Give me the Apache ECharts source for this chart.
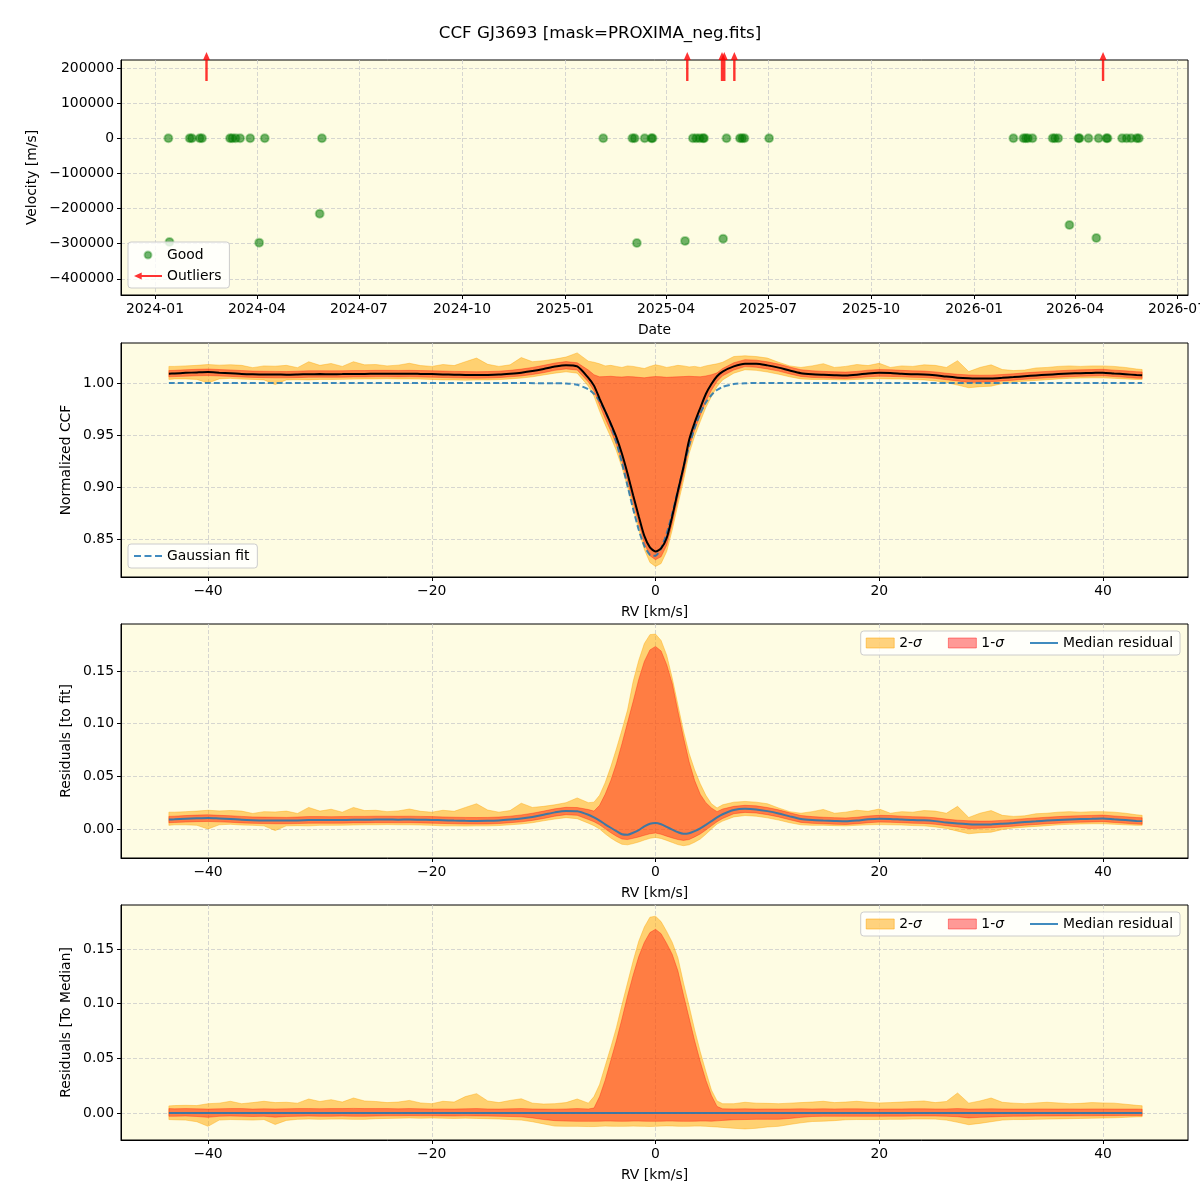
<!DOCTYPE html>
<html>
<head>
<meta charset="utf-8">
<title>CCF GJ3693</title>
<script src="https://cdn.jsdelivr.net/npm/echarts@6/dist/echarts.min.js"></script>
<style>
  html, body { margin: 0; padding: 0; background: #fff; }
  #chart { width: 1200px; height: 1200px; }
</style>
</head>
<body>
<div id="chart"></div>
<script>
// ---- values ----

// top panel: RV time series
const goodDates = [
    '2024-01-13', '2024-01-14', '2024-02-01', '2024-02-03', '2024-02-10', '2024-02-12', '2024-03-08', '2024-03-10',
    '2024-03-13', '2024-03-17', '2024-03-26', '2024-04-03', '2024-04-08', '2024-05-27', '2024-05-29',
    '2025-02-04', '2025-03-02', '2025-03-04', '2025-03-06', '2025-03-13', '2025-03-19', '2025-03-20', '2025-04-18',
    '2025-04-25', '2025-04-28', '2025-05-01', '2025-05-04', '2025-05-05', '2025-05-22', '2025-05-25', '2025-06-06',
    '2025-06-08', '2025-06-10', '2025-07-02',
    '2026-02-05', '2026-02-14', '2026-02-16', '2026-02-18', '2026-02-22', '2026-03-12', '2026-03-14', '2026-03-17',
    '2026-03-27', '2026-04-04', '2026-04-05', '2026-04-13', '2026-04-20', '2026-04-22', '2026-04-29', '2026-04-30',
    '2026-05-13', '2026-05-17', '2026-05-21', '2026-05-26', '2026-05-28'
];
const goodVel = [
    0, -295000, 0, 0, 0, 0, 0, 0,
    0, 0, 0, -297000, 0, -215000, 0,
    0, 0, 0, -298000, 0, 0, 0, -292000,
    0, 0, 0, 0, 0, -286000, 0, 0,
    0, 0, 0,
    0, 0, 0, 0, 0, 0, 0, 0,
    -246600, 0, 0, 0, -283700, 0, 0, 0,
    0, 0, 0, 0, 0
];
const outlierDates = ['2024-02-16', '2025-04-20', '2025-05-21', '2025-05-23', '2025-06-01', '2026-04-26'];

const dateTicks = ['2024-01-01', '2024-04-01', '2024-07-01', '2024-10-01', '2025-01-01', '2025-04-01',
    '2025-07-01', '2025-10-01', '2026-01-01', '2026-04-01', '2026-07-01'];
const velTicks = [-400000, -300000, -200000, -100000, 0, 100000, 200000];
const rvTicks = [-40, -20, 0, 20, 40];
const ccfTicks = [0.85, 0.90, 0.95, 1.00];
const resTicks = [0.00, 0.05, 0.10, 0.15];

// RV grid shared by the CCF / residual profiles (km/s)
const rvGrid = [
    -43.5, -43, -42, -41, -40, -39, -38, -37, -36, -35, -34, -33, -32, -31, -30, -29, -28, -27, -26, -25,
    -24, -23, -22, -21, -20, -19, -18, -17, -16, -15, -14, -13, -12, -11, -10, -9, -8, -7,
    -6, -5.5, -5, -4.5, -4, -3.5, -3, -2.5, -2, -1.5, -1, -0.5, 0, 0.5, 1, 1.5, 2, 2.5, 3, 3.5, 4, 4.5, 5, 5.5, 6,
    7, 8, 9, 10, 11, 12, 13, 14, 15, 16, 17, 18, 19, 20, 21, 22, 23, 24, 25, 26, 27, 28, 29, 30,
    31, 32, 33, 34, 35, 36, 37, 38, 39, 40, 41, 42, 43, 43.5
];

// panel 2: normalized CCF
const gaussRv = [-43.5, -9, -8, -7, -6, -5.5, -5, -4.5, -4, -3.5, -3, -2.5, -2, -1.5, -1, -0.5, 0,
    0.5, 1, 1.5, 2, 2.5, 3, 3.5, 4, 4.5, 5, 5.5, 6, 7, 8, 9, 43.5];
const gaussFit = [1.0000, 0.9999, 0.9996, 0.9983, 0.9940, 0.9896, 0.9829, 0.9731, 0.9600, 0.9431, 0.9232, 0.9011,
    0.8790, 0.8589, 0.8435, 0.8348, 0.8340, 0.8412, 0.8554, 0.8747, 0.8966, 0.9189, 0.9394, 0.9569, 0.9708,
    0.9812, 0.9885, 0.9933, 0.9963, 0.9990, 0.9998, 1.0000, 1.0000];

const ccfMedian = [
    1.0090, 1.0092, 1.0098, 1.0102, 1.0105, 1.0100, 1.0095, 1.0088, 1.0084, 1.0082, 1.0082, 1.0080, 1.0082, 1.0085,
    1.0086, 1.0085, 1.0086, 1.0088, 1.0088, 1.0090, 1.0090, 1.0089, 1.0090, 1.0088, 1.0086, 1.0083, 1.0080, 1.0078,
    1.0077, 1.0078, 1.0082, 1.0090, 1.0100, 1.0115, 1.0135, 1.0158, 1.0172, 1.0160,
    1.0050, 0.9975, 0.9850, 0.9730, 0.9610, 0.9480, 0.9320, 0.9130, 0.8920, 0.8720, 0.8530, 0.8420, 0.8381,
    0.8410, 0.8510, 0.8720, 0.8960, 0.9190, 0.9450, 0.9620, 0.9760, 0.9895, 0.9990, 1.0065, 1.0110,
    1.0160, 1.0186, 1.0186, 1.0170, 1.0148, 1.0120, 1.0095, 1.0085, 1.0080, 1.0076, 1.0073, 1.0080, 1.0092, 1.0098,
    1.0096, 1.0090, 1.0085, 1.0083, 1.0075, 1.0062, 1.0052, 1.0046, 1.0043, 1.0044, 1.0050, 1.0057, 1.0066, 1.0073,
    1.0080, 1.0086, 1.0091, 1.0095, 1.0097, 1.0100, 1.0092, 1.0085, 1.0077, 1.0075
];
const ccf1Lo = [
    1.0060, 1.0062, 1.0066, 1.0070, 1.0072, 1.0068, 1.0064, 1.0058, 1.0054, 1.0052, 1.0050, 1.0050, 1.0052, 1.0055,
    1.0056, 1.0055, 1.0056, 1.0058, 1.0058, 1.0060, 1.0060, 1.0059, 1.0060, 1.0058, 1.0056, 1.0053, 1.0050, 1.0048,
    1.0047, 1.0048, 1.0052, 1.0060, 1.0068, 1.0082, 1.0100, 1.0122, 1.0136, 1.0125,
    1.0010, 0.9925, 0.9790, 0.9660, 0.9540, 0.9410, 0.9250, 0.9060, 0.8850, 0.8650, 0.8460, 0.8340, 0.8301,
    0.8330, 0.8440, 0.8650, 0.8890, 0.9120, 0.9380, 0.9550, 0.9690, 0.9825, 0.9930, 1.0015, 1.0070,
    1.0125, 1.0158, 1.0152, 1.0136, 1.0115, 1.0088, 1.0063, 1.0054, 1.0050, 1.0046, 1.0043, 1.0050, 1.0060, 1.0066,
    1.0064, 1.0060, 1.0055, 1.0053, 1.0045, 1.0032, 1.0020, 1.0005, 1.0008, 1.0012, 1.0020, 1.0027, 1.0036, 1.0043,
    1.0050, 1.0056, 1.0061, 1.0065, 1.0067, 1.0070, 1.0062, 1.0055, 1.0047, 1.0045
];
const ccf1Hi = [
    1.0120, 1.0122, 1.0128, 1.0132, 1.0135, 1.0130, 1.0126, 1.0120, 1.0115, 1.0113, 1.0112, 1.0110, 1.0114, 1.0118,
    1.0118, 1.0117, 1.0118, 1.0120, 1.0120, 1.0122, 1.0122, 1.0121, 1.0122, 1.0120, 1.0118, 1.0115, 1.0112, 1.0110,
    1.0109, 1.0110, 1.0114, 1.0122, 1.0134, 1.0150, 1.0170, 1.0192, 1.0206, 1.0195,
    1.0125, 1.0080, 1.0060, 1.0062, 1.0065, 1.0060, 1.0058, 1.0062, 1.0060, 1.0055, 1.0050, 1.0058, 1.0062,
    1.0060, 1.0055, 1.0058, 1.0060, 1.0062, 1.0065, 1.0062, 1.0060, 1.0068, 1.0080, 1.0098, 1.0140,
    1.0195, 1.0225, 1.0220, 1.0204, 1.0182, 1.0154, 1.0128, 1.0118, 1.0112, 1.0108, 1.0105, 1.0112, 1.0124, 1.0130,
    1.0128, 1.0122, 1.0117, 1.0115, 1.0107, 1.0094, 1.0084, 1.0078, 1.0075, 1.0076, 1.0082, 1.0089, 1.0098, 1.0105,
    1.0112, 1.0118, 1.0123, 1.0127, 1.0129, 1.0132, 1.0124, 1.0117, 1.0109, 1.0107
];
const ccf2Lo = [
    1.0035, 1.0040, 1.0040, 1.0035, 1.0000, 1.0040, 1.0045, 1.0038, 1.0035, 1.0030, 0.9985, 1.0030, 1.0032, 1.0030,
    1.0035, 1.0035, 1.0036, 1.0038, 1.0040, 1.0040, 1.0042, 1.0040, 1.0040, 1.0038, 1.0035, 1.0030, 1.0030, 1.0028,
    1.0030, 1.0030, 1.0033, 1.0040, 1.0048, 1.0060, 1.0078, 1.0095, 1.0108, 1.0095,
    0.9970, 0.9875, 0.9730, 0.9600, 0.9480, 0.9350, 0.9190, 0.9000, 0.8790, 0.8590, 0.8400, 0.8275, 0.8236,
    0.8265, 0.8380, 0.8590, 0.8830, 0.9060, 0.9320, 0.9490, 0.9630, 0.9765, 0.9870, 0.9965, 1.0030,
    1.0095, 1.0128, 1.0122, 1.0106, 1.0085, 1.0060, 1.0040, 1.0035, 1.0035, 1.0032, 1.0030, 1.0035, 1.0040, 1.0042,
    1.0040, 1.0038, 1.0033, 1.0030, 1.0020, 1.0005, 0.9980, 0.9955, 0.9965, 0.9970, 0.9995, 1.0010, 1.0018, 1.0025,
    1.0032, 1.0040, 1.0045, 1.0048, 1.0050, 1.0050, 1.0045, 1.0040, 1.0035, 1.0035
];
const ccf2Hi = [
    1.0160, 1.0160, 1.0165, 1.0170, 1.0178, 1.0172, 1.0176, 1.0170, 1.0148, 1.0165, 1.0162, 1.0170, 1.0148, 1.0205,
    1.0170, 1.0188, 1.0160, 1.0205, 1.0175, 1.0178, 1.0165, 1.0172, 1.0190, 1.0168, 1.0160, 1.0178, 1.0168, 1.0205,
    1.0240, 1.0180, 1.0160, 1.0175, 1.0245, 1.0205, 1.0215, 1.0230, 1.0250, 1.0290,
    1.0210, 1.0200, 1.0185, 1.0165, 1.0170, 1.0160, 1.0150, 1.0165, 1.0160, 1.0150, 1.0140, 1.0160, 1.0175,
    1.0165, 1.0150, 1.0160, 1.0170, 1.0165, 1.0155, 1.0160, 1.0150, 1.0165, 1.0175, 1.0185, 1.0200,
    1.0255, 1.0262, 1.0255, 1.0240, 1.0200, 1.0165, 1.0150, 1.0165, 1.0186, 1.0150, 1.0160, 1.0178, 1.0168, 1.0190,
    1.0150, 1.0165, 1.0160, 1.0175, 1.0170, 1.0150, 1.0215, 1.0110, 1.0150, 1.0175, 1.0130, 1.0120, 1.0125, 1.0145,
    1.0150, 1.0160, 1.0165, 1.0160, 1.0165, 1.0165, 1.0160, 1.0150, 1.0135, 1.0130
];

// panel 3: residuals to the Gaussian fit
const resFitMedian = [
    0.0090, 0.0092, 0.0098, 0.0102, 0.0105, 0.0100, 0.0095, 0.0088, 0.0084, 0.0082, 0.0082, 0.0080, 0.0082, 0.0085,
    0.0086, 0.0085, 0.0086, 0.0088, 0.0088, 0.0090, 0.0090, 0.0089, 0.0090, 0.0088, 0.0086, 0.0083, 0.0080, 0.0078,
    0.0077, 0.0078, 0.0082, 0.0090, 0.0100, 0.0115, 0.0135, 0.0158, 0.0172, 0.0168,
    0.0135, 0.0110, 0.0080, 0.0045, 0.0012, -0.0020, -0.0050, -0.0055, -0.0035, -0.0010, 0.0025, 0.0050, 0.0057,
    0.0045, 0.0020, -0.0005, -0.0030, -0.0045, -0.0040, -0.0020, 0.0006, 0.0040, 0.0075, 0.0110, 0.0140,
    0.0180, 0.0192, 0.0186, 0.0170, 0.0148, 0.0120, 0.0095, 0.0085, 0.0080, 0.0076, 0.0073, 0.0080, 0.0092, 0.0098,
    0.0096, 0.0090, 0.0085, 0.0083, 0.0075, 0.0062, 0.0052, 0.0046, 0.0043, 0.0044, 0.0050, 0.0057, 0.0066, 0.0073,
    0.0080, 0.0086, 0.0091, 0.0095, 0.0097, 0.0100, 0.0092, 0.0085, 0.0077, 0.0075
];
const resFit1Lo = [
    0.0060, 0.0062, 0.0066, 0.0070, 0.0072, 0.0068, 0.0064, 0.0058, 0.0054, 0.0052, 0.0050, 0.0050, 0.0052, 0.0055,
    0.0056, 0.0055, 0.0056, 0.0058, 0.0058, 0.0060, 0.0060, 0.0059, 0.0060, 0.0058, 0.0056, 0.0053, 0.0050, 0.0048,
    0.0047, 0.0048, 0.0052, 0.0060, 0.0068, 0.0082, 0.0100, 0.0122, 0.0136, 0.0130,
    0.0090, 0.0069, 0.0040, 0.0002, -0.0035, -0.0068, -0.0095, -0.0100, -0.0088, -0.0075, -0.0060, -0.0045, -0.0038,
    -0.0050, -0.0068, -0.0085, -0.0100, -0.0108, -0.0100, -0.0075, -0.0047, -0.0010, 0.0030, 0.0069, 0.0100,
    0.0145, 0.0158, 0.0152, 0.0136, 0.0115, 0.0088, 0.0063, 0.0054, 0.0050, 0.0046, 0.0043, 0.0050, 0.0060, 0.0066,
    0.0064, 0.0060, 0.0055, 0.0053, 0.0045, 0.0032, 0.0020, 0.0005, 0.0008, 0.0012, 0.0020, 0.0027, 0.0036, 0.0043,
    0.0050, 0.0056, 0.0061, 0.0065, 0.0067, 0.0070, 0.0062, 0.0055, 0.0047, 0.0045
];
const resFit1Hi = [
    0.0120, 0.0122, 0.0128, 0.0132, 0.0135, 0.0130, 0.0126, 0.0120, 0.0115, 0.0113, 0.0112, 0.0110, 0.0114, 0.0118,
    0.0118, 0.0117, 0.0118, 0.0120, 0.0120, 0.0122, 0.0122, 0.0121, 0.0122, 0.0120, 0.0118, 0.0115, 0.0112, 0.0110,
    0.0109, 0.0110, 0.0114, 0.0122, 0.0134, 0.0150, 0.0170, 0.0192, 0.0206, 0.0204,
    0.0185, 0.0170, 0.0225, 0.0330, 0.0460, 0.0620, 0.0810, 0.1010, 0.1210, 0.1420, 0.1590, 0.1700, 0.1733,
    0.1690, 0.1560, 0.1380, 0.1120, 0.0870, 0.0640, 0.0460, 0.0330, 0.0250, 0.0200, 0.0165, 0.0190,
    0.0215, 0.0225, 0.0220, 0.0204, 0.0182, 0.0154, 0.0128, 0.0118, 0.0112, 0.0108, 0.0105, 0.0112, 0.0124, 0.0130,
    0.0128, 0.0122, 0.0117, 0.0115, 0.0107, 0.0094, 0.0084, 0.0078, 0.0075, 0.0076, 0.0082, 0.0089, 0.0098, 0.0105,
    0.0112, 0.0118, 0.0123, 0.0127, 0.0129, 0.0132, 0.0124, 0.0117, 0.0109, 0.0107
];
const resFit2Lo = [
    0.0035, 0.0040, 0.0040, 0.0035, 0.0000, 0.0040, 0.0045, 0.0038, 0.0035, 0.0030, -0.0015, 0.0030, 0.0032, 0.0030,
    0.0035, 0.0035, 0.0036, 0.0038, 0.0040, 0.0040, 0.0042, 0.0040, 0.0040, 0.0038, 0.0035, 0.0030, 0.0030, 0.0028,
    0.0030, 0.0030, 0.0033, 0.0040, 0.0048, 0.0060, 0.0078, 0.0095, 0.0108, 0.0098,
    0.0055, 0.0032, 0.0000, -0.0045, -0.0085, -0.0118, -0.0145, -0.0150, -0.0138, -0.0123, -0.0105, -0.0088, -0.0080,
    -0.0090, -0.0108, -0.0128, -0.0148, -0.0158, -0.0150, -0.0125, -0.0095, -0.0050, 0.0000, 0.0047, 0.0075,
    0.0115, 0.0128, 0.0122, 0.0106, 0.0085, 0.0060, 0.0040, 0.0035, 0.0035, 0.0032, 0.0030, 0.0035, 0.0040, 0.0042,
    0.0040, 0.0038, 0.0033, 0.0030, 0.0020, 0.0005, -0.0020, -0.0045, -0.0035, -0.0030, -0.0005, 0.0010, 0.0018, 0.0025,
    0.0032, 0.0040, 0.0045, 0.0048, 0.0050, 0.0050, 0.0045, 0.0040, 0.0035, 0.0035
];
const resFit2Hi = [
    0.0160, 0.0160, 0.0165, 0.0170, 0.0178, 0.0172, 0.0176, 0.0170, 0.0148, 0.0165, 0.0162, 0.0170, 0.0148, 0.0205,
    0.0170, 0.0188, 0.0160, 0.0205, 0.0175, 0.0178, 0.0165, 0.0172, 0.0190, 0.0168, 0.0160, 0.0178, 0.0168, 0.0205,
    0.0240, 0.0180, 0.0160, 0.0175, 0.0245, 0.0205, 0.0215, 0.0230, 0.0250, 0.0295,
    0.0250, 0.0255, 0.0320, 0.0440, 0.0590, 0.0760, 0.0940, 0.1130, 0.1400, 0.1600, 0.1760, 0.1845, 0.1850,
    0.1790, 0.1650, 0.1430, 0.1180, 0.0930, 0.0720, 0.0560, 0.0430, 0.0320, 0.0240, 0.0200, 0.0230,
    0.0255, 0.0262, 0.0255, 0.0240, 0.0200, 0.0165, 0.0150, 0.0165, 0.0186, 0.0150, 0.0160, 0.0178, 0.0168, 0.0190,
    0.0150, 0.0165, 0.0160, 0.0175, 0.0170, 0.0150, 0.0215, 0.0110, 0.0150, 0.0175, 0.0130, 0.0120, 0.0125, 0.0145,
    0.0150, 0.0160, 0.0165, 0.0160, 0.0165, 0.0165, 0.0160, 0.0150, 0.0135, 0.0130
];

// panel 4: residuals to the median profile
const resMedRv = [-43.5, 43.5];
const resMedLine = [0, 0];
const resMed1Lo = [
    -0.0030, -0.0030, -0.0028, -0.0032, -0.0040, -0.0030, -0.0028, -0.0030, -0.0032, -0.0030, -0.0038, -0.0032, -0.0030, -0.0028,
    -0.0030, -0.0030, -0.0028, -0.0030, -0.0030, -0.0028, -0.0026, -0.0026, -0.0025, -0.0026, -0.0026, -0.0027, -0.0028, -0.0026,
    -0.0027, -0.0028, -0.0030, -0.0032, -0.0035, -0.0045, -0.0060, -0.0070, -0.0074, -0.0076,
    -0.0076, -0.0076, -0.0075, -0.0074, -0.0074, -0.0075, -0.0076, -0.0075, -0.0074, -0.0074, -0.0075, -0.0076, -0.0076,
    -0.0075, -0.0074, -0.0074, -0.0075, -0.0076, -0.0076, -0.0075, -0.0074, -0.0074, -0.0075, -0.0072, -0.0068,
    -0.0062, -0.0060, -0.0058, -0.0058, -0.0058, -0.0050, -0.0040, -0.0032, -0.0030, -0.0030, -0.0030, -0.0030, -0.0030, -0.0030,
    -0.0029, -0.0029, -0.0028, -0.0028, -0.0028, -0.0030, -0.0034, -0.0045, -0.0040, -0.0036, -0.0032, -0.0030, -0.0029, -0.0028,
    -0.0028, -0.0027, -0.0027, -0.0026, -0.0026, -0.0025, -0.0025, -0.0024, -0.0024, -0.0024
];
const resMed1Hi = [
    0.0040, 0.0038, 0.0040, 0.0038, 0.0036, 0.0038, 0.0040, 0.0040, 0.0036, 0.0038, 0.0037, 0.0038, 0.0040, 0.0040,
    0.0039, 0.0040, 0.0040, 0.0042, 0.0040, 0.0040, 0.0040, 0.0038, 0.0040, 0.0038, 0.0036, 0.0037, 0.0036, 0.0038,
    0.0040, 0.0037, 0.0036, 0.0038, 0.0040, 0.0037, 0.0036, 0.0035, 0.0037, 0.0040,
    0.0037, 0.0045, 0.0150, 0.0300, 0.0480, 0.0660, 0.0860, 0.1070, 0.1260, 0.1430, 0.1560, 0.1650, 0.1680,
    0.1640, 0.1550, 0.1450, 0.1300, 0.1080, 0.0870, 0.0660, 0.0470, 0.0300, 0.0160, 0.0060, 0.0038,
    0.0037, 0.0038, 0.0036, 0.0037, 0.0036, 0.0037, 0.0038, 0.0037, 0.0038, 0.0037, 0.0038, 0.0038, 0.0037, 0.0036,
    0.0037, 0.0037, 0.0038, 0.0038, 0.0037, 0.0037, 0.0040, 0.0036, 0.0037, 0.0038, 0.0037, 0.0036, 0.0036, 0.0037,
    0.0037, 0.0036, 0.0037, 0.0036, 0.0037, 0.0037, 0.0036, 0.0036, 0.0036, 0.0035
];
const resMed2Lo = [
    -0.0060, -0.0062, -0.0065, -0.0080, -0.0122, -0.0065, -0.0060, -0.0062, -0.0065, -0.0060, -0.0105, -0.0068, -0.0058, -0.0055,
    -0.0058, -0.0056, -0.0055, -0.0058, -0.0058, -0.0052, -0.0050, -0.0048, -0.0046, -0.0048, -0.0046, -0.0048, -0.0050, -0.0047,
    -0.0050, -0.0052, -0.0055, -0.0060, -0.0065, -0.0080, -0.0100, -0.0120, -0.0122, -0.0122,
    -0.0124, -0.0124, -0.0122, -0.0120, -0.0121, -0.0122, -0.0122, -0.0121, -0.0120, -0.0121, -0.0122, -0.0123, -0.0122,
    -0.0120, -0.0118, -0.0119, -0.0121, -0.0122, -0.0121, -0.0120, -0.0120, -0.0122, -0.0125, -0.0128, -0.0132,
    -0.0140, -0.0146, -0.0140, -0.0128, -0.0122, -0.0105, -0.0090, -0.0078, -0.0075, -0.0070, -0.0062, -0.0060, -0.0060, -0.0060,
    -0.0058, -0.0058, -0.0055, -0.0055, -0.0056, -0.0065, -0.0085, -0.0107, -0.0095, -0.0080, -0.0065, -0.0060, -0.0060, -0.0058,
    -0.0056, -0.0054, -0.0052, -0.0050, -0.0048, -0.0046, -0.0044, -0.0040, -0.0035, -0.0034
];
const resMed2Hi = [
    0.0065, 0.0068, 0.0070, 0.0068, 0.0085, 0.0090, 0.0107, 0.0085, 0.0095, 0.0107, 0.0095, 0.0098, 0.0090, 0.0128,
    0.0105, 0.0122, 0.0100, 0.0137, 0.0110, 0.0105, 0.0095, 0.0100, 0.0115, 0.0092, 0.0085, 0.0107, 0.0100, 0.0150,
    0.0177, 0.0110, 0.0095, 0.0115, 0.0130, 0.0090, 0.0082, 0.0085, 0.0095, 0.0128,
    0.0090, 0.0150, 0.0260, 0.0430, 0.0600, 0.0780, 0.0990, 0.1190, 0.1390, 0.1570, 0.1700, 0.1790, 0.1800,
    0.1750, 0.1660, 0.1560, 0.1420, 0.1190, 0.0980, 0.0760, 0.0560, 0.0380, 0.0210, 0.0110, 0.0085,
    0.0085, 0.0098, 0.0090, 0.0088, 0.0085, 0.0090, 0.0095, 0.0100, 0.0107, 0.0095, 0.0100, 0.0107, 0.0098, 0.0092,
    0.0095, 0.0100, 0.0105, 0.0110, 0.0095, 0.0105, 0.0183, 0.0090, 0.0110, 0.0137, 0.0098, 0.0090, 0.0085, 0.0092,
    0.0098, 0.0092, 0.0085, 0.0088, 0.0095, 0.0092, 0.0090, 0.0080, 0.0070, 0.0066
];

// sanity check: every profile must match the RV grid
const profiles = { ccfMedian, ccf1Lo, ccf1Hi, ccf2Lo, ccf2Hi, resFitMedian, resFit1Lo, resFit1Hi, resFit2Lo,
    resFit2Hi, resMed1Lo, resMed1Hi, resMed2Lo, resMed2Hi };
Object.keys(profiles).forEach(k => {
    if (profiles[k].length !== rvGrid.length) throw new Error(k + ' has ' + profiles[k].length + ' values');
});
if (goodDates.length !== goodVel.length) throw new Error('goodDates/goodVel mismatch');

// ---- styling ----
const FONT = 'DejaVu Sans';
const BG = '#FEFCE3';
const ORANGE = 'rgba(255,165,0,0.5)';
const RED = 'rgba(255,0,0,0.4)';
const BLUE = 'rgba(31,119,180,0.85)';
const ARROW_Y = 204000;   // where the outlier arrows sit (off-scale points)

// legend glyphs: plain line, dashed line, left arrow
const ICON_LINE = 'path://M0,0 L28,0 L28,2 L0,2 Z';
const ICON_DASH = 'path://M0,0 L7,0 L7,2 L0,2 Z M10.5,0 L17.5,0 L17.5,2 L10.5,2 Z M21,0 L28,0 L28,2 L21,2 Z';
const ICON_ARROW = 'path://M0,5 L11,0 L11,3.6 L40,3.6 L40,6.4 L11,6.4 L11,10 Z';

function minusFmt(v) {
    return (v < 0 ? '\u2212' : '') + Math.abs(v);
}
function dateFmt(v) {
    const d = new Date(v);
    return d.getUTCFullYear() + '-' + String(d.getUTCMonth() + 1).padStart(2, '0');
}

function makeGrid(top, height) {
    return {
        left: 121, right: 12, top: top, height: height,
        show: true, backgroundColor: BG, borderColor: '#000', borderWidth: 1,
        outerBoundsMode: 'none', containLabel: false
    };
}

function makeAxis(gridIndex, min, max, ticks, formatter, name, nameGap, isY) {
    return {
        type: 'value', gridIndex: gridIndex, min: min, max: max,
        name: name, nameLocation: 'middle', nameGap: nameGap, nameRotate: isY ? 90 : 0,
        nameMoveOverlap: false,
        nameTextStyle: { color: '#000', fontSize: 13.9, fontFamily: FONT },
        axisLine: { show: true, onZero: false, lineStyle: { color: '#000', width: 1 } },
        axisTick: { show: true, inside: false, length: 4, customValues: ticks, lineStyle: { color: '#000', width: 1 } },
        axisLabel: { show: true, customValues: ticks, formatter: formatter, color: '#000',
            fontSize: 13.9, fontFamily: FONT, margin: 7, hideOverlap: false },
        splitLine: { show: true, lineStyle: { color: '#cccccc', width: 0.8, type: [4, 2] } }
    };
}

// filled band between lo and hi, drawn once as a single polygon through the axis scales
function bandSeries(name, axisIndex, xs, lo, hi, fill) {
    return {
        type: 'custom', name: name, xAxisIndex: axisIndex, yAxisIndex: axisIndex,
        data: xs.map((x, i) => [x, lo[i], hi[i]]),
        encode: { x: 0, y: [1, 2] },
        itemStyle: { color: fill },
        silent: true, z: 1,
        renderItem: function (params, api) {
            if (params.dataIndex !== 0) return;
            const pts = [];
            for (let i = 0; i < xs.length; i++) pts.push(api.coord([xs[i], hi[i]]));
            for (let i = xs.length - 1; i >= 0; i--) pts.push(api.coord([xs[i], lo[i]]));
            return {
                type: 'polygon', shape: { points: pts },
                style: { fill: fill, stroke: fill, lineWidth: 0.8 }
            };
        }
    };
}

function lineSeries(name, axisIndex, xs, ys, color, width, dash, z) {
    return {
        type: 'line', name: name, xAxisIndex: axisIndex, yAxisIndex: axisIndex,
        data: xs.map((x, i) => [x, ys[i]]),
        symbol: 'none', showSymbol: false, silent: true, z: z,
        smooth: 0.25,
        itemStyle: { color: color },
        lineStyle: { color: color, width: width, type: dash || 'solid' }
    };
}

const T_MIN = Date.parse('2023-12-01T17:00:00Z');
const T_MAX = Date.parse('2026-07-10T19:00:00Z');
const RV_MIN = -47.78, RV_MAX = 47.6;

const legendText = { color: '#000', fontSize: 13.9, fontFamily: FONT,
    rich: { i: { fontStyle: 'italic', fontSize: 13.9, fontFamily: FONT, color: '#000' } } };
const legendBox = { backgroundColor: 'rgba(255,255,255,0.8)', borderColor: '#cccccc', borderWidth: 1,
    borderRadius: 3, itemWidth: 28, itemHeight: 10 };
const sigmaLegend = [
    { name: '2-\u03c3', icon: 'rect', itemStyle: { color: ORANGE, borderColor: ORANGE, borderWidth: 1 } },
    { name: '1-\u03c3', icon: 'rect', itemStyle: { color: RED, borderColor: RED, borderWidth: 1 } },
    { name: 'Median residual', icon: ICON_LINE, itemStyle: { color: BLUE } }
];
function sigmaFmt(name) {
    return name.replace('\u03c3', '{i|\u03c3}');
}

const option = {
    animation: false,
    backgroundColor: '#ffffff',
    title: {
        text: 'CCF GJ3693 [mask=PROXIMA_neg.fits]', left: 'center', top: 20,
        textStyle: { color: '#000', fontSize: 16.7, fontWeight: 'normal', fontFamily: FONT }
    },
    grid: [makeGrid(60, 235), makeGrid(343, 234), makeGrid(624, 234), makeGrid(905, 235)],
    xAxis: [
        makeAxis(0, T_MIN, T_MAX, dateTicks.map(d => Date.parse(d)), dateFmt, 'Date', 28, false),
        makeAxis(1, RV_MIN, RV_MAX, rvTicks, minusFmt, 'RV [km/s]', 28, false),
        makeAxis(2, RV_MIN, RV_MAX, rvTicks, minusFmt, 'RV [km/s]', 28, false),
        makeAxis(3, RV_MIN, RV_MAX, rvTicks, minusFmt, 'RV [km/s]', 28, false)
    ],
    yAxis: [
        makeAxis(0, -446000, 222700, velTicks, minusFmt, 'Velocity [m/s]', 82, true),
        makeAxis(1, 0.8135, 1.0385, ccfTicks, v => v.toFixed(2), 'Normalized CCF', 48, true),
        makeAxis(2, -0.0275, 0.1946, resTicks, v => v.toFixed(2), 'Residuals [to fit]', 48, true),
        makeAxis(3, -0.0247, 0.1902, resTicks, v => v.toFixed(2), 'Residuals [To Median]', 48, true)
    ],
    legend: [
        Object.assign({}, legendBox, {
            left: 128, top: 242, orient: 'vertical', itemGap: 7, itemHeight: 7,
            padding: [6, 8, 5, 6], textStyle: legendText,
            data: [
                { name: 'Good', icon: 'circle' },
                { name: 'Outliers', icon: ICON_ARROW, itemStyle: { color: '#ff0000' } }
            ]
        }),
        Object.assign({}, legendBox, {
            left: 128, top: 544, padding: [5, 8, 5, 6], textStyle: legendText,
            data: [{ name: 'Gaussian fit', icon: ICON_DASH, itemStyle: { color: BLUE } }]
        }),
        Object.assign({}, legendBox, {
            right: 20, top: 631, itemGap: 26, padding: [5, 7, 5, 5], textStyle: legendText,
            formatter: sigmaFmt, data: sigmaLegend
        }),
        Object.assign({}, legendBox, {
            right: 20, top: 912, itemGap: 26, padding: [5, 7, 5, 5], textStyle: legendText,
            formatter: sigmaFmt, data: sigmaLegend
        })
    ],
    series: [
        // top panel
        {
            type: 'scatter', name: 'Good', xAxisIndex: 0, yAxisIndex: 0,
            data: goodDates.map((d, i) => [Date.parse(d), goodVel[i]]),
            symbol: 'circle', symbolSize: 8, z: 3,
            itemStyle: { color: 'rgba(0,120,0,0.7)', borderColor: 'rgba(0,128,0,0.4)', borderWidth: 2 }
        },
        {
            type: 'scatter', name: 'Outliers', xAxisIndex: 0, yAxisIndex: 0, clip: false,
            data: outlierDates.map(d => [Date.parse(d), ARROW_Y]),
            symbol: 'path://M3.5,0 L7,8 L4.7,8 L4.7,29 L2.3,29 L2.3,8 L0,8 Z',
            symbolSize: [7, 29], z: 4,
            itemStyle: { color: '#ff0000' }
        },
        // normalized CCF
        bandSeries('ccf 2-\u03c3', 1, rvGrid, ccf2Lo, ccf2Hi, ORANGE),
        bandSeries('ccf 1-\u03c3', 1, rvGrid, ccf1Lo, ccf1Hi, RED),
        lineSeries('Gaussian fit', 1, gaussRv, gaussFit, BLUE, 2, [6, 3], 3),
        lineSeries('CCF median', 1, rvGrid, ccfMedian, '#000000', 2, null, 4),
        // residuals to fit
        bandSeries('2-\u03c3', 2, rvGrid, resFit2Lo, resFit2Hi, ORANGE),
        bandSeries('1-\u03c3', 2, rvGrid, resFit1Lo, resFit1Hi, RED),
        lineSeries('Median residual', 2, rvGrid, resFitMedian, BLUE, 2, null, 3),
        // residuals to median
        bandSeries('2-\u03c3', 3, rvGrid, resMed2Lo, resMed2Hi, ORANGE),
        bandSeries('1-\u03c3', 3, rvGrid, resMed1Lo, resMed1Hi, RED),
        lineSeries('Median residual', 3, resMedRv, resMedLine, BLUE, 2, null, 3)
    ]
};

const chart = echarts.init(document.getElementById('chart'), null, { renderer: 'canvas' });
chart.setOption(option);
</script>
</body>
</html>
